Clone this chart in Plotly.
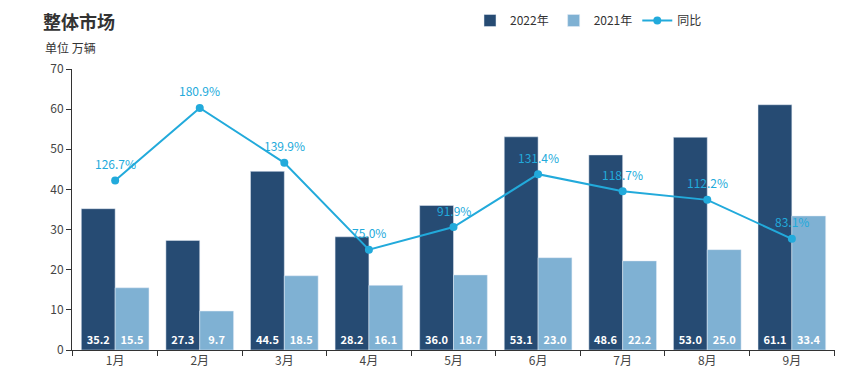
import plotly.graph_objects as go

months = ["1月", "2月", "3月", "4月", "5月", "6月", "7月", "8月", "9月"]
sales_2022 = [35.2, 27.3, 44.5, 28.2, 36.0, 53.1, 48.6, 53.0, 61.1]
sales_2021 = [15.5, 9.7, 18.5, 16.1, 18.7, 23.0, 22.2, 25.0, 33.4]
yoy = [126.7, 180.9, 139.9, 75.0, 91.9, 131.4, 118.7, 112.2, 83.1]

font = "Microsoft YaHei, Noto Sans CJK SC, sans-serif"
c22 = "#264b73"
c21 = "#7fb1d3"
cl = "#22aadb"

fig = go.Figure()
fig.add_trace(go.Bar(
    x=months, y=sales_2022, name="2022年", marker_color=c22,
    text=[f"{v:.1f}" for v in sales_2022], textposition="inside",
    insidetextanchor="start", textangle=0, constraintext="none",
    textfont=dict(color="white", size=11, family=font, weight="bold"),
))
fig.add_trace(go.Bar(
    x=months, y=sales_2021, name="2021年", marker_color=c21,
    text=[f"{v:.1f}" for v in sales_2021], textposition="inside",
    insidetextanchor="start", textangle=0, constraintext="none",
    textfont=dict(color="white", size=11, family=font, weight="bold"),
))
fig.add_trace(go.Scatter(
    x=months, y=yoy, name="同比", yaxis="y2", mode="lines+markers",
    line=dict(color=cl, width=2), marker=dict(color=cl, size=8),
))

L, R, T, B = 72, 10, 69, 33
W, H = 845, 383
pw = W - L - R
ph = H - T - B

def px_x(x):
    return (x - L) / pw

def px_y(y):
    return 1 - (y - T) / ph

annotations = [
    dict(text="<b>整体市场</b>", x=px_x(41), y=px_y(21), xref="paper", yref="paper",
         showarrow=False, font=dict(size=18, color="#333", family=font),
         xanchor="left", yanchor="middle"),
    dict(text="单位 万辆", x=px_x(43), y=px_y(47), xref="paper", yref="paper",
         showarrow=False, font=dict(size=12, color="#333", family=font),
         xanchor="left", yanchor="middle"),
]
for m, v in zip(months, yoy):
    annotations.append(dict(
        x=m, y=v, xref="x", yref="y2", text=f"{v:.1f}%", showarrow=False,
        yshift=17, xanchor="center", yanchor="middle",
        font=dict(size=12, color=cl, family=font),
    ))

fig.update_layout(
    width=W, height=H,
    margin=dict(l=L, r=R, t=T, b=B),
    plot_bgcolor="white", paper_bgcolor="white",
    font=dict(family=font, size=12, color="#444"),
    barmode="group", bargap=0.2, bargroupgap=0,
    showlegend=True,
    legend=dict(orientation="h", x=px_x(470), y=1 - 6 / H, yref="container",
                yanchor="top", xanchor="left", font=dict(size=12, color="#333"),
                traceorder="normal"),
    xaxis=dict(showline=True, linecolor="#333", linewidth=1, ticks="outside",
               tickson="boundaries", ticklen=5, tickcolor="#333",
               tickfont=dict(size=12, color="#444")),
    yaxis=dict(range=[0, 70], dtick=10, showline=True, linecolor="#333",
               linewidth=1, ticks="outside", ticklen=5, tickcolor="#333",
               showgrid=False, zeroline=False, tickfont=dict(size=12, color="#444")),
    yaxis2=dict(range=[0, 210], overlaying="y", side="right", visible=False,
                showgrid=False),
    annotations=annotations,
)

fig.write_html("out.html", config={"displayModeBar": False},
               post_script="document.body.style.margin='0';")
